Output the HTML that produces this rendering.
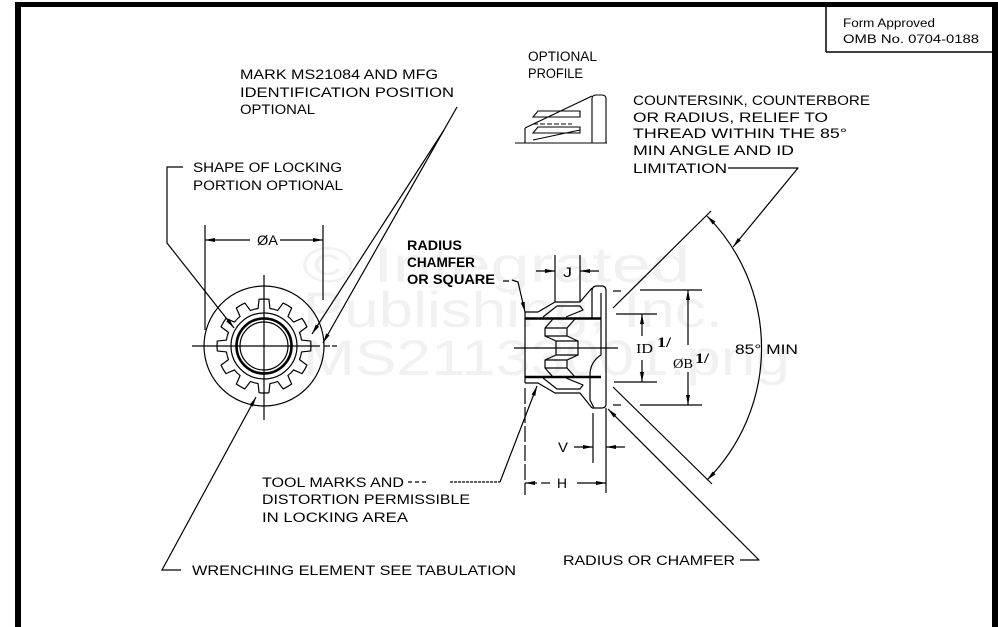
<!DOCTYPE html>
<html>
<head>
<meta charset="utf-8">
<style>
  html,body{margin:0;padding:0;background:#fff;}
  svg{display:block;}
  .t{font-family:"Liberation Sans",Arial,sans-serif;font-size:13.5px;fill:#000;}
  .s{font-family:"Liberation Serif","Liberation Mono",serif;font-size:14px;fill:#000;}
  .f{font-family:"Liberation Sans",Arial,sans-serif;font-size:11.5px;fill:#000;}
  .w{font-family:"Liberation Sans",Arial,sans-serif;font-size:50px;fill:#f1f1f1;}
</style>
</head>
<body>
<svg width="998" height="627" viewBox="0 0 998 627" xmlns="http://www.w3.org/2000/svg">
<defs>
  <marker id="ar" markerUnits="userSpaceOnUse" markerWidth="10" markerHeight="6" refX="10" refY="3" orient="auto-start-reverse" viewBox="0 0 10 6">
    <path d="M0,1 L10,3 L0,5 z" fill="#000"/>
  </marker>
  <path id="tooth" d="M-9.83,-36.71 A38,38 0 0 1 -5.94,-37.53 L-4.91,-46.74 A47,47 0 0 1 4.91,-46.74 L5.94,-37.53 A38,38 0 0 1 9.83,-36.71" fill="none" stroke="#000" stroke-width="1.2" stroke-linejoin="round"/>
</defs>

<!-- watermark -->
<text class="w" x="302" y="282" textLength="388" lengthAdjust="spacingAndGlyphs">© Integrated</text>
<text class="w" x="303" y="327" textLength="420" lengthAdjust="spacingAndGlyphs">Publishing, Inc.</text>
<text class="w" x="303" y="375" textLength="487" lengthAdjust="spacingAndGlyphs">MS21133001.png</text>

<!-- borders -->
<rect x="15" y="2" width="983" height="5" fill="#000"/>
<rect x="15" y="2" width="6" height="625" fill="#000"/>
<rect x="992" y="2" width="6" height="625" fill="#000"/>

<!-- form box -->
<g stroke="#000" stroke-width="1.5" fill="none">
  <line x1="826" y1="7" x2="826" y2="52"/>
  <line x1="826" y1="52" x2="992" y2="52"/>
</g>
<text class="f" x="843" y="27" textLength="92" lengthAdjust="spacingAndGlyphs">Form Approved</text>
<text class="f" x="843" y="43" textLength="136" lengthAdjust="spacingAndGlyphs">OMB No. 0704-0188</text>

<!-- ================= FRONT (gear) VIEW ================= -->
<g stroke="#000" stroke-width="1.2" fill="none">
  <circle cx="264" cy="346" r="60"/>
  <circle cx="264" cy="346" r="33"/>
  <circle cx="264" cy="346" r="27.5" stroke-width="2.6"/>
  <circle cx="264" cy="346" r="24"/>
  <!-- crosshairs -->
  <line x1="192" y1="346" x2="320" y2="346"/>
  <line x1="324" y1="346" x2="330" y2="346"/>
  <line x1="332" y1="346" x2="337" y2="346"/>
  <line x1="264" y1="275" x2="264" y2="420"/>
  <!-- ØA dimension -->
  <line x1="205" y1="225" x2="205" y2="330"/>
  <line x1="323" y1="225" x2="323" y2="300"/>
  <line x1="250" y1="240" x2="205" y2="240" marker-end="url(#ar)"/>
  <line x1="280" y1="240" x2="323" y2="240" marker-end="url(#ar)"/>
  <!-- leaders -->
  <polyline points="183,167 167,167 167,243 234,328" marker-end="url(#ar)"/>
  <line x1="457" y1="107" x2="323" y2="343" marker-end="url(#ar)"/>
  <line x1="444" y1="130" x2="312" y2="334" marker-end="url(#ar)"/>
  <polyline points="181,570 162,570 256,397" marker-end="url(#ar)"/>
</g>
<g transform="translate(264,346)">
  <use href="#tooth" transform="rotate(0)"/>
  <use href="#tooth" transform="rotate(30)"/>
  <use href="#tooth" transform="rotate(60)"/>
  <use href="#tooth" transform="rotate(90)"/>
  <use href="#tooth" transform="rotate(120)"/>
  <use href="#tooth" transform="rotate(150)"/>
  <use href="#tooth" transform="rotate(180)"/>
  <use href="#tooth" transform="rotate(210)"/>
  <use href="#tooth" transform="rotate(240)"/>
  <use href="#tooth" transform="rotate(270)"/>
  <use href="#tooth" transform="rotate(300)"/>
  <use href="#tooth" transform="rotate(330)"/>
</g>
<text class="t" x="257" y="245" textLength="21" lengthAdjust="spacingAndGlyphs">ØA</text>

<text class="t" x="240" y="79" textLength="198" lengthAdjust="spacingAndGlyphs">MARK MS21084 AND MFG</text>
<text class="t" x="240" y="97" textLength="214" lengthAdjust="spacingAndGlyphs">IDENTIFICATION POSITION</text>
<text class="t" x="240" y="114" textLength="75" lengthAdjust="spacingAndGlyphs">OPTIONAL</text>
<text class="t" x="193" y="172" textLength="149" lengthAdjust="spacingAndGlyphs">SHAPE OF LOCKING</text>
<text class="t" x="193" y="190" textLength="150" lengthAdjust="spacingAndGlyphs">PORTION OPTIONAL</text>
<text class="t" x="192" y="575" textLength="324" lengthAdjust="spacingAndGlyphs">WRENCHING ELEMENT SEE TABULATION</text>

<!-- ================= OPTIONAL PROFILE ================= -->
<text class="t" x="528" y="61" textLength="69" lengthAdjust="spacingAndGlyphs">OPTIONAL</text>
<text class="t" x="528" y="78" textLength="55" lengthAdjust="spacingAndGlyphs">PROFILE</text>
<g stroke="#000" stroke-width="1.1" fill="none">
  <line x1="515" y1="143" x2="607" y2="143"/>
  <path d="M592,143 L592,99 Q592,95 596,95 L602,95 Q606,95 606,99 L606,143"/>
  <line x1="525" y1="128" x2="592" y2="96"/>
  <line x1="525" y1="128" x2="525" y2="143"/>
  <polygon points="533,117 538,111 580,111 580,117"/>
  <polygon points="533,133 538,127 580,127 580,133"/>
  <line x1="533" y1="124" x2="572" y2="124" stroke-dasharray="5,2"/>
  <line x1="533" y1="140" x2="580" y2="130"/>
</g>

<!-- ================= COUNTERSINK NOTE ================= -->
<text class="t" x="633" y="105" textLength="237" lengthAdjust="spacingAndGlyphs">COUNTERSINK, COUNTERBORE</text>
<text class="t" x="633" y="122" textLength="195" lengthAdjust="spacingAndGlyphs">OR RADIUS, RELIEF TO</text>
<text class="t" x="633" y="138" textLength="214" lengthAdjust="spacingAndGlyphs">THREAD WITHIN THE 85°</text>
<text class="t" x="633" y="155" textLength="161" lengthAdjust="spacingAndGlyphs">MIN ANGLE AND ID</text>
<text class="t" x="633" y="173" textLength="94" lengthAdjust="spacingAndGlyphs">LIMITATION</text>

<!-- ================= SIDE VIEW ================= -->
<g stroke="#000" stroke-width="1.2" fill="none" stroke-linejoin="round">
  <line x1="525" y1="312" x2="525" y2="383"/>
  <line x1="525" y1="318.5" x2="601" y2="318.5" stroke-width="2.6"/>
  <line x1="525" y1="377" x2="601" y2="377" stroke-width="2.6"/>
  <polyline points="525,312 538,312 555,302 580,302 592,288"/>
  <polyline points="543,317 557,306 580,306 583,310 566,317"/>
  <polyline points="525,383 538,383 555,393 580,393 592,408"/>
  <polyline points="543,378 557,389 580,389 583,385 566,378"/>
  <path d="M592,318 L592,291 Q592,286 597,286 L602,286 Q606,286 606,291 L606,404 Q606,408 602,408 L592,408"/>
  <path d="M601,293 L601,355 Q590,362 590,375 L590,400 L594,408"/>
  <polyline points="553,319 545,328 545,336 556,341 556,355 545,360 545,368 553,377"/>
  <polyline points="575,319 567,328 567,336 578,341 578,355 567,360 567,368 575,377"/>
  <line x1="545" y1="328" x2="567" y2="328"/>
  <line x1="545" y1="336" x2="567" y2="336"/>
  <line x1="556" y1="341" x2="578" y2="341"/>
  <line x1="556" y1="355" x2="578" y2="355"/>
  <line x1="545" y1="360" x2="567" y2="360"/>
  <line x1="545" y1="368" x2="567" y2="368"/>
  <line x1="514" y1="348" x2="618" y2="348"/>
  <line x1="503" y1="281" x2="509" y2="281"/>
  <polyline points="512,280 518,282 525,312" marker-end="url(#ar)"/>
  <line x1="555" y1="255" x2="555" y2="302"/>
  <line x1="580" y1="255" x2="580" y2="302"/>
  <line x1="536" y1="271" x2="555" y2="271" marker-end="url(#ar)"/>
  <line x1="599" y1="271" x2="580" y2="271" marker-end="url(#ar)"/>
  <line x1="613" y1="308" x2="711" y2="211"/>
  <line x1="613" y1="387" x2="712" y2="484"/>
  <path d="M707,216 A187,187 0 0 1 707,480" marker-start="url(#ar)" marker-end="url(#ar)"/>
  <polyline points="728,168 798,168 733,247" marker-end="url(#ar)"/>
  <line x1="616" y1="314" x2="657" y2="314"/>
  <line x1="614" y1="382" x2="657" y2="382"/>
  <line x1="642" y1="336" x2="642" y2="314" marker-end="url(#ar)"/>
  <line x1="642" y1="360" x2="642" y2="382" marker-end="url(#ar)"/>
  <line x1="640" y1="290" x2="702" y2="290"/>
  <line x1="640" y1="405" x2="702" y2="405"/>
  <line x1="613" y1="291" x2="621" y2="291"/>
  <line x1="613" y1="405" x2="621" y2="405"/>
  <line x1="688" y1="345" x2="688" y2="290" marker-end="url(#ar)"/>
  <line x1="688" y1="372" x2="688" y2="405" marker-end="url(#ar)"/>
  <line x1="593" y1="413" x2="593" y2="463"/>
  <line x1="606" y1="408" x2="606" y2="493"/>
  <line x1="574" y1="447" x2="593" y2="447" marker-end="url(#ar)"/>
  <line x1="625" y1="447" x2="606" y2="447" marker-end="url(#ar)"/>
  <line x1="525" y1="388" x2="525" y2="495" stroke-dasharray="16,3"/>
  <line x1="537" y1="483" x2="525" y2="483" marker-end="url(#ar)"/>
  <line x1="541" y1="483" x2="550" y2="483"/>
  <line x1="577" y1="483" x2="606" y2="483" marker-end="url(#ar)"/>
  <line x1="408" y1="482" x2="428" y2="482" stroke-dasharray="4,3"/>
  <line x1="450" y1="482" x2="500" y2="482" stroke-dasharray="3,1"/>
  <polyline points="500,482 537,386" marker-end="url(#ar)"/>
  <polyline points="740,560 759,560 608,409" marker-end="url(#ar)"/>
</g>

<text class="t" x="407" y="250" textLength="55" lengthAdjust="spacingAndGlyphs" style="font-weight:bold">RADIUS</text>
<text class="t" x="407" y="267" textLength="68" lengthAdjust="spacingAndGlyphs" style="font-weight:bold">CHAMFER</text>
<text class="t" x="407" y="284" textLength="88" lengthAdjust="spacingAndGlyphs" style="font-weight:bold">OR SQUARE</text>
<text class="t" x="563" y="277" textLength="9" lengthAdjust="spacingAndGlyphs">J</text>

<text class="s" x="636" y="353" textLength="17" lengthAdjust="spacingAndGlyphs">ID</text>
<text class="s" x="657" y="347" textLength="14" lengthAdjust="spacingAndGlyphs" style="font-size:15px;font-weight:bold">1/</text>
<text class="s" x="673" y="368" textLength="20" lengthAdjust="spacingAndGlyphs">ØB</text>
<text class="s" x="695" y="363" textLength="14" lengthAdjust="spacingAndGlyphs" style="font-size:15px;font-weight:bold">1/</text>
<text class="t" x="735" y="354" textLength="63" lengthAdjust="spacingAndGlyphs">85° MIN</text>

<text class="t" x="558" y="452" textLength="10" lengthAdjust="spacingAndGlyphs">V</text>
<text class="t" x="557" y="488" textLength="10" lengthAdjust="spacingAndGlyphs">H</text>

<text class="t" x="262" y="487" textLength="142" lengthAdjust="spacingAndGlyphs">TOOL MARKS AND</text>
<text class="t" x="262" y="504" textLength="208" lengthAdjust="spacingAndGlyphs">DISTORTION PERMISSIBLE</text>
<text class="t" x="262" y="522" textLength="146" lengthAdjust="spacingAndGlyphs">IN LOCKING AREA</text>
<text class="t" x="563" y="565" textLength="172" lengthAdjust="spacingAndGlyphs">RADIUS OR CHAMFER</text>
</svg>
</body>
</html>
